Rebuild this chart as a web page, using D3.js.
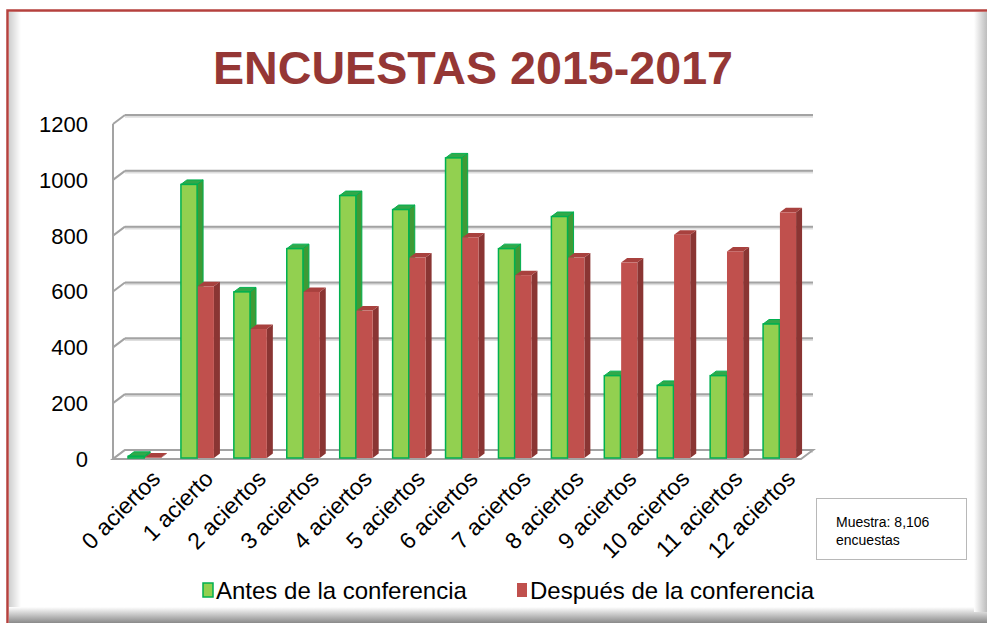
<!DOCTYPE html>
<html>
<head>
<meta charset="utf-8">
<script src="https://cdn.jsdelivr.net/npm/d3@7"></script>
<style>
  body { margin: 0; background: #fff; }
  svg { display: block; font-family: "Liberation Sans", Arial, sans-serif; }
</style>
</head>
<body>
<svg id="chart" width="987" height="623"></svg>
<script>
// data
const categories = ["0 aciertos", "1 acierto", "2 aciertos", "3 aciertos", "4 aciertos", "5 aciertos",
  "6 aciertos", "7 aciertos", "8 aciertos", "9 aciertos", "10 aciertos", "11 aciertos", "12 aciertos"];
const antes = [6, 980, 595, 750, 940, 890, 1075, 750, 865, 295, 260, 295, 480];
const despues = [2, 615, 462, 595, 528, 718, 790, 655, 718, 700, 800, 740, 880];
const seriesNames = ["Antes de la conferencia", "Después de la conferencia"];
const yTicks = [0, 200, 400, 600, 800, 1000, 1200];

const svg = d3.select("#chart");
const W = 987, H = 623;

// frame shading
const defs = svg.append("defs");
function grad(id, x1, y1, x2, y2, stops) {
  const g = defs.append("linearGradient").attr("id", id)
    .attr("x1", x1).attr("y1", y1).attr("x2", x2).attr("y2", y2);
  stops.forEach(s => g.append("stop").attr("offset", s[0]).attr("stop-color", s[1]));
}
grad("gLeft", 0, 0, 1, 0, [[0, "#cfcfcf"], [1, "#ffffff"]]);
grad("gBottom", 0, 0, 0, 1, [[0, "#ffffff"], [1, "#8a8a8a"]]);
grad("gRight", 0, 0, 1, 0, [[0, "#ffffff"], [1, "#bdbdbd"]]);

svg.append("rect").attr("x", 0).attr("y", 0).attr("width", W).attr("height", H).attr("fill", "#fff");
svg.append("rect").attr("x", 9).attr("y", 12).attr("width", 12).attr("height", H - 12).attr("fill", "url(#gLeft)");
svg.append("rect").attr("x", 9).attr("y", 607).attr("width", W - 9).attr("height", 16).attr("fill", "url(#gBottom)");
svg.append("rect").attr("x", 974).attr("y", 12).attr("width", 13).attr("height", 600).attr("fill", "url(#gRight)");
svg.append("path").attr("d", `M7.5,${H}V10.5H${W}`)
  .attr("fill", "none").attr("stroke", "#b5413e").attr("stroke-width", 2.5);

// title
svg.append("text").attr("x", 473).attr("y", 84).attr("text-anchor", "middle")
  .attr("font-size", 46).attr("font-weight", "bold").attr("fill", "#953735")
  .attr("textLength", 520).attr("lengthAdjust", "spacingAndGlyphs")
  .text("ENCUESTAS  2015-2017");

// scales (front plane) and 3d depth offset
const x = d3.scaleBand().domain(categories).range([113, 801]);
const xs = d3.scaleBand().domain(seriesNames).range([14, 47]).paddingInner(0.04);
const y = d3.scaleLinear().domain([0, 1200]).range([459, 124]);
const depth = { dx: 12, dy: -9 };

const grid = svg.append("g");
// back wall gridlines + left wall diagonals
yTicks.forEach(t => {
  const yy = y(t) + depth.dy;
  grid.append("line").attr("x1", x.range()[0] + depth.dx).attr("x2", x.range()[1] + depth.dx)
    .attr("y1", yy + 1.5).attr("y2", yy + 1.5).attr("stroke", "#dedede").attr("stroke-width", 2.5);
  grid.append("line").attr("x1", x.range()[0] + depth.dx).attr("x2", x.range()[1] + depth.dx)
    .attr("y1", yy).attr("y2", yy).attr("stroke", "#a3a3a3").attr("stroke-width", 2);
  grid.append("line").attr("x1", x.range()[0]).attr("y1", y(t))
    .attr("x2", x.range()[0] + depth.dx).attr("y2", yy).attr("stroke", "#a3a3a3").attr("stroke-width", 2);
});
// left wall front edge
grid.append("line").attr("x1", x.range()[0]).attr("x2", x.range()[0])
  .attr("y1", y(1200)).attr("y2", y(0)).attr("stroke", "#a3a3a3").attr("stroke-width", 2);
// floor
const fx0 = x.range()[0], fx1 = x.range()[1], fy = y(0);
grid.append("path")
  .attr("d", `M${fx0},${fy}H${fx1}L${fx1 + depth.dx},${fy + depth.dy}H${fx0 + depth.dx}Z`)
  .attr("fill", "#fff").attr("stroke", "#a3a3a3").attr("stroke-width", 2);

// y labels
svg.append("g").selectAll("text").data(yTicks).join("text")
  .attr("x", 88).attr("y", d => y(d)).attr("dy", "0.36em")
  .attr("text-anchor", "end").attr("font-size", 22).attr("fill", "#000")
  .text(d => d);

// bars
const styles = [
  { front: "#92d050", side: "#3f9a35", top: "#32a84a", stroke: "#00b050" },
  { front: "#c0504d", side: "#8a3533", top: "#a8413e", stroke: "#c0504d" }
];
const bd = { dx: 6, dy: -4.5 };
const bars = svg.append("g");
categories.forEach((c, i) => {
  [antes[i], despues[i]].forEach((v, s) => {
    const st = styles[s];
    const x0 = x(c) + xs(seriesNames[s]) + 1;
    const w = xs.bandwidth();
    const base = y(0) - 1;
    const top = y(v) - 1;
    const g = bars.append("g");
    g.append("path")
      .attr("d", `M${x0 + w},${top}L${x0 + w + bd.dx},${top + bd.dy}V${base + bd.dy}L${x0 + w},${base}Z`)
      .attr("fill", st.side).attr("stroke", s === 0 ? st.stroke : "none").attr("stroke-width", 1);
    g.append("path")
      .attr("d", `M${x0},${top}L${x0 + bd.dx},${top + bd.dy}H${x0 + w + bd.dx}L${x0 + w},${top}Z`)
      .attr("fill", st.top).attr("stroke", s === 0 ? st.stroke : "none").attr("stroke-width", 1);
    g.append("rect").attr("x", x0).attr("y", top).attr("width", w).attr("height", base - top)
      .attr("fill", st.front).attr("stroke", s === 0 ? st.stroke : "none").attr("stroke-width", 1.5);
  });
});

// x labels
svg.append("g").selectAll("text").data(categories).join("text")
  .attr("transform", d => `translate(${x(d) + x.bandwidth() / 2 + 10},${468}) rotate(-45)`)
  .attr("text-anchor", "end").attr("dy", "0.75em").attr("font-size", 23).attr("fill", "#000")
  .text(d => d);

// legend
const legend = svg.append("g");
const legX = [203, 517];
seriesNames.forEach((n, s) => {
  legend.append("rect").attr("x", legX[s]).attr("y", 583).attr("width", 10).attr("height", 14)
    .attr("fill", styles[s].front).attr("stroke", styles[s].stroke).attr("stroke-width", s === 0 ? 1.5 : 0);
  legend.append("text").attr("x", legX[s] + 13).attr("y", 599).attr("font-size", 24).attr("fill", "#000")
    .text(n);
});

// sample note
svg.append("rect").attr("x", 816.5).attr("y", 498.5).attr("width", 150).attr("height", 61)
  .attr("fill", "#fff").attr("stroke", "#b8b8b8").attr("stroke-width", 1);
svg.append("text").attr("x", 836).attr("y", 527).attr("font-size", 14).text("Muestra: 8,106");
svg.append("text").attr("x", 836).attr("y", 545).attr("font-size", 14).text("encuestas");
</script>
</body>
</html>
